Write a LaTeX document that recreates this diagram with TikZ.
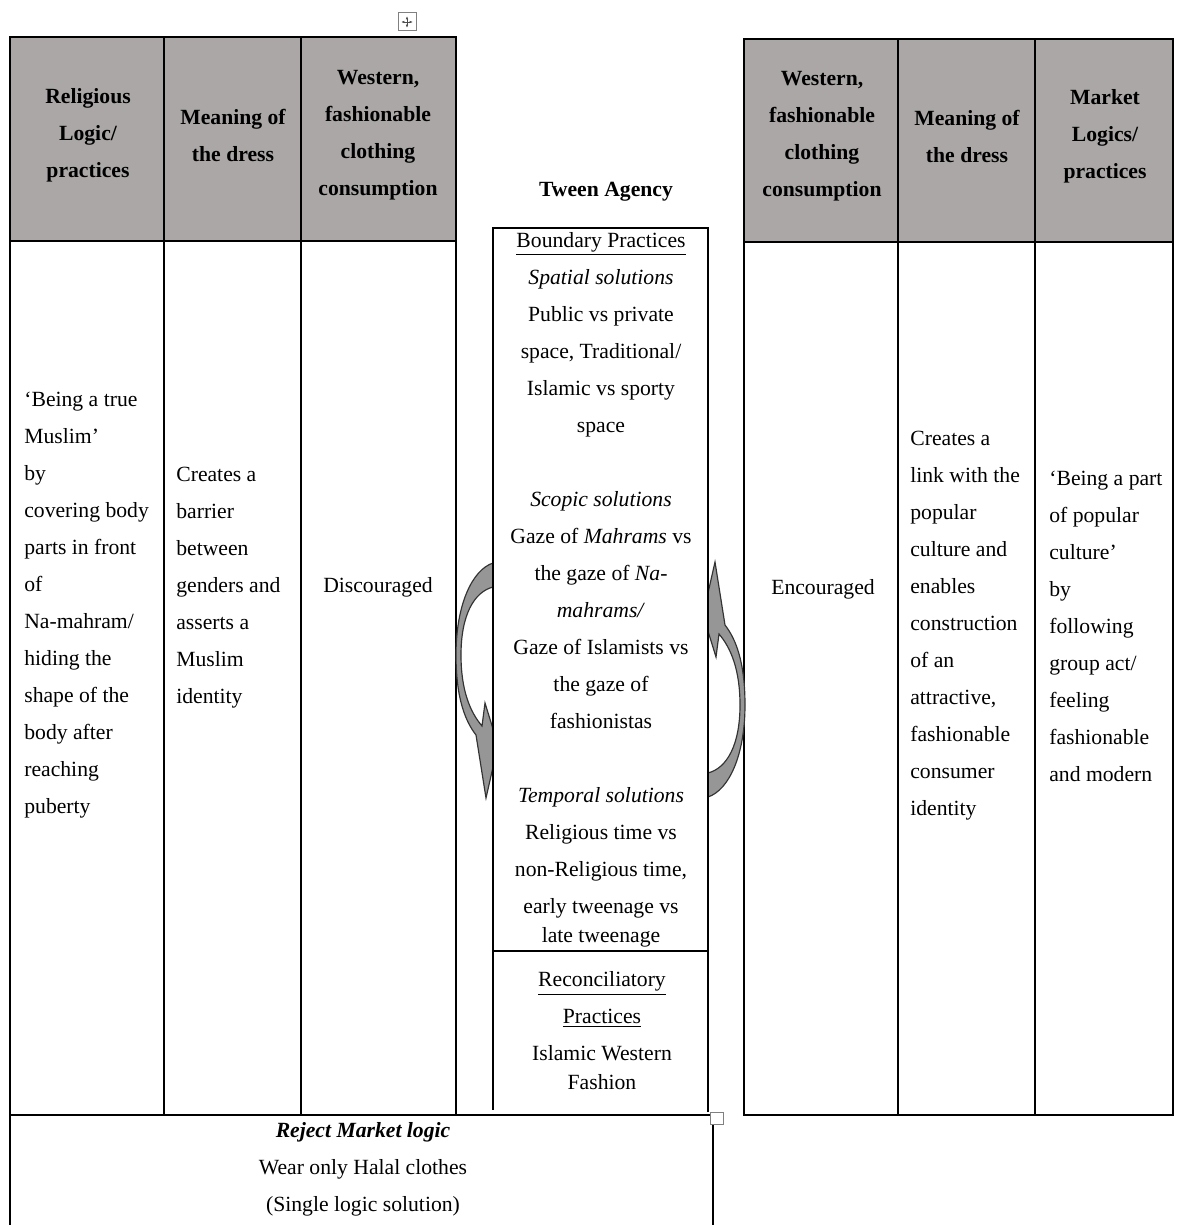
\documentclass[tikz,border=0pt]{standalone}
\usepackage{fontspec}
\setmainfont{Liberation Serif}
\usepackage{xcolor}
\usetikzlibrary{arrows.meta}

\definecolor{headgray}{RGB}{171,167,167}
\definecolor{arrowgray}{RGB}{150,150,150}

\tikzset{
	turnarrow/.pic={
		\filldraw[fill=arrowgray, draw=black!80, line width=0.7pt]
			(493,563) .. controls (472,570) and (456,605) .. (456,655)
			.. controls (456,700) and (466,722) .. (476,735)
			-- (486,798) -- (498,745) -- (485,703) -- (482,726)
			.. controls (470,712) and (461,690) .. (461,655)
			.. controls (461,615) and (474,592) .. (493,587) -- cycle;
	}
}

\begin{document}
\begin{tikzpicture}[x=0.6pt,y=-0.6pt,
	cell/.style={draw=black, line width=1pt},
	head/.style={font=\bfseries\fontsize{13}{22.2}\selectfont, align=center, inner sep=0pt},
	body/.style={font=\fontsize{13}{22.2}\selectfont, align=left, anchor=west, inner sep=0pt},
	mid/.style={font=\fontsize{13}{22.2}\selectfont, align=center, inner sep=0pt}]
	\useasboundingbox (0,0) rectangle (1179,1225);
	
	% left table
	\filldraw[cell, fill=headgray] (10,37) rectangle (456,241);
	\draw[cell] (10,241) rectangle (456,1115);
	\draw[cell] (164,37) -- (164,1115);
	\draw[cell] (301,37) -- (301,1115);
	
	% right table
	\filldraw[cell, fill=headgray] (744,39) rectangle (1173,242);
	\draw[cell] (744,242) rectangle (1173,1115);
	\draw[cell] (898,39) -- (898,1115);
	\draw[cell] (1035,39) -- (1035,1115);
	
	% bottom box
	\draw[cell] (10,1115) -- (710,1115);
	\draw[cell] (10,1115) -- (10,1225);
	\draw[cell] (713,1124) -- (713,1225);
	\draw[gray, line width=0.6pt] (710,1112) rectangle (723,1124);
	
	% curved arrows
	\pic at (0,0) {turnarrow};
	\pic[rotate=180] at (1201,1360) {turnarrow};
	
	% tween agency box
	\filldraw[cell, fill=white] (708,1112) -- (708,228) -- (493,228) -- (493,1110);
	\draw[cell] (493,951) -- (708,951);
	
	% move handle
	\draw[gray, line width=0.6pt] (398,13) rectangle (416,31);
	\draw[black!70, line width=0.5pt, {Latex[length=2pt]}-{Latex[length=2pt]}] (401,22) -- (413,22);
	\draw[black!70, line width=0.5pt, {Latex[length=2pt]}-{Latex[length=2pt]}] (407,16) -- (407,28);
	
	% headers
	\node[head] (relhead) at (88,135) {Religious\\Logic/\\practices};
	\node[head] (lmeanhead) at (233,135) {Meaning of\\the dress};
	\node[head] (lwesthead) at (378,135) {Western,\\fashionable\\clothing\\consumption};
	\node[head] (rwesthead) at (822,136) {Western,\\fashionable\\clothing\\consumption};
	\node[head] (rmeanhead) at (967,136) {Meaning of\\the dress};
	\node[head] (markethead) at (1105,136) {Market\\Logics/\\practices};
	\node[head] (tween) at (606,192) {Tween Agency};
	
	% cells
	\node[body] (relbody) at (24,605) {‘Being a true\\Muslim’\\by\\covering body\\parts in front\\of\\Na-mahram/\\hiding the\\shape of the\\body after\\reaching\\puberty};
	\node[body] (lmeanbody) at (176,588) {Creates a\\barrier\\between\\genders and\\asserts a\\Muslim\\identity};
	\node[mid] (discour) at (378,587) {Discouraged};
	\node[mid] (encour) at (823,589) {Encouraged};
	\node[body] (rmeanbody) at (910,626) {Creates a\\link with the\\popular\\culture and\\enables\\construction\\of an\\attractive,\\fashionable\\consumer\\identity};
	\node[body] (marketbody) at (1049,626) {‘Being a part\\of popular\\culture’\\by\\following\\group act/\\feeling\\fashionable\\and modern};
	
	\node[mid] (boundary) at (601,590) {\underline{Boundary Practices}\\\textit{Spatial solutions}\\Public vs private\\space, Traditional/\\Islamic vs sporty\\space\\[22.2pt]\textit{Scopic solutions}\\Gaze of \textit{Mahrams} vs\\the gaze of \textit{Na-}\\\textit{mahrams/}\\Gaze of Islamists vs\\the gaze of\\fashionistas\\[22.2pt]\textit{Temporal solutions}\\Religious time vs\\non-Religious time,\\early tweenage vs\\[-4.8pt]late tweenage};
	\node[mid] (reconcile) at (602,1031) {\underline{Reconciliatory}\\\underline{Practices}\\Islamic Western\\[-4.8pt]Fashion};
	
	\node[mid] (reject) at (363,1169) {\textbf{\textit{Reject Market logic}}\\Wear only Halal clothes\\(Single logic solution)};
	
\end{tikzpicture}
\end{document}
